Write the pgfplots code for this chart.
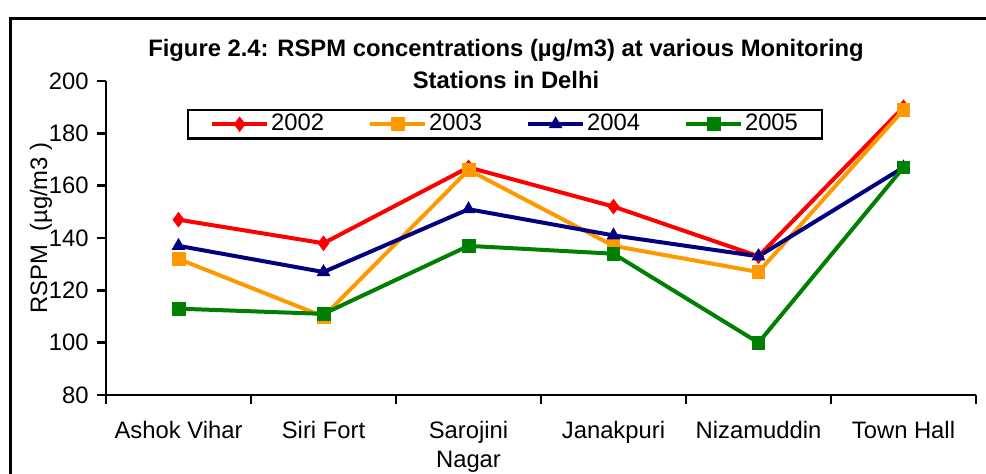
\documentclass[border=0pt]{standalone}
\usepackage{pgfplots}
\pgfplotsset{compat=1.18}
\usepackage{fontspec}
\setmainfont{Liberation Sans}
\definecolor{cRed}{RGB}{255,0,0}
\definecolor{cOrange}{RGB}{255,153,0}
\definecolor{cNavy}{RGB}{0,0,128}
\definecolor{cGreen}{RGB}{0,128,0}
\begin{document}
\fontsize{11.9}{14}\selectfont
\begin{tikzpicture}
\useasboundingbox (0pt,0pt) rectangle (493pt,236.5pt);
\draw[line width=1.2pt] (5.25pt,-5pt) -- (5.25pt,227.25pt) -- (500pt,227.25pt);
\begin{axis}[
  at={(53pt,39pt)}, anchor=south west,
  scale only axis, width=435pt, height=157pt,
  xmin=-0.5, xmax=5.5, ymin=80, ymax=200,
  ytick={80,100,...,200},
  xtick={-0.5,0.5,...,5.5},
  xticklabels={},
  extra x ticks={0,1,2,3,4,5},
  extra x tick labels={Ashok Vihar, Siri Fort, {Sarojini\\Nagar}, Janakpuri, Nizamuddin, Town Hall},
  extra x tick style={tick style={draw=none}},
  x tick label style={align=center, yshift=-4.5pt, font=\fontsize{11.9}{14.5}\selectfont},
  axis x line*=bottom, axis y line*=left,
  axis line style={line width=1.2pt,-},
  tick style={line width=1.2pt, black},
  major tick length=4.5pt,
  tick align=outside,
  /pgf/number format/assume math mode=true,
  tick label style={font=\fontsize{11.9}{14}\selectfont},
  ylabel={RSPM\ \ (µg/m3\ )},
  ylabel style={at={(axis description cs:-0.0747,0.532)}, anchor=center},
  legend style={at={(axis description cs:0.0931,0.911)}, anchor=north west,
    legend columns=4, draw=black, line width=1.2pt, inner xsep=11pt, inner ysep=1pt,
    nodes={inner sep=1pt}, font=\fontsize{11.9}{14}\selectfont,
    /tikz/every odd column/.append style={column sep=0pt},
    /tikz/every even column/.append style={column sep=21pt}},
  legend image code/.code={\draw[mark repeat=2,mark phase=2,#1] plot coordinates {(0pt,0pt)(13.75pt,0pt)(27.5pt,0pt)};},
  every axis plot/.append style={line width=2pt, mark options={solid, line width=0.4pt}},
]
\addplot[cRed, mark=diamond*, mark size=3.6pt] coordinates {(0,147)(1,138)(2,167)(3,152)(4,133)(5,190)};
\addplot[cOrange, mark=square*, mark size=3.2pt] coordinates {(0,132)(1,110)(2,166)(3,137)(4,127)(5,189)};
\addplot[cNavy, mark=triangle*, mark size=3.6pt] coordinates {(0,137)(1,127)(2,151)(3,141)(4,133)(5,167)};
\addplot[cGreen, mark=square*, mark size=3.2pt] coordinates {(0,113)(1,111)(2,137)(3,134)(4,100)(5,167)};
\legend{2002,2003,2004,2005}
\end{axis}
\node[font=\fontsize{11.9}{16}\selectfont\bfseries, align=center, inner sep=0pt] at (253pt,204.5pt) {Figure 2.4: RSPM concentrations (µg/m3) at various Monitoring\\Stations in Delhi};
\end{tikzpicture}
\end{document}
